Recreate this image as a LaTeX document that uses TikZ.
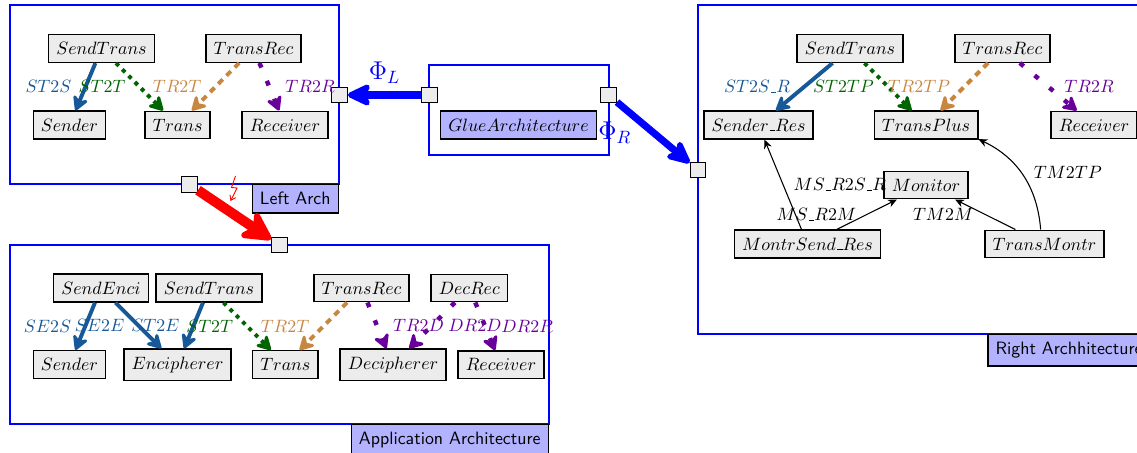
\documentclass[tikz,border=0pt]{standalone}
\usetikzlibrary{arrows.meta}
\definecolor{cblue}{RGB}{22,88,152}
\definecolor{cgreen}{RGB}{0,100,0}
\definecolor{ctan}{RGB}{200,135,65}
\definecolor{cpurple}{RGB}{105,0,155}
% short low rule used inside math identifiers
\newcommand{\mkusc}{\kern0.06em\vbox{\hrule width0.3em}}
\tikzset{
  boxnode/.style={draw=black, thick, fill=gray!15, inner sep=4.3pt},
  archtag/.style={draw=black, thick, fill=blue!30, inner sep=4.3pt, font=\sffamily},
  portsq/.style={draw=black, thick, fill=gray!15, minimum size=8.7pt, inner sep=0pt},
  archframe/.style={draw=blue, semithick},
  conn/.style={line width=2.2pt, -{Stealth[length=10pt,width=11pt,inset=3.5pt,round]}},
  sarr/.style={conn, color=cblue},
  garr/.style={conn, color=cgreen, dash pattern=on 2.2pt off 2.8pt},
  tarr/.style={conn, color=ctan, dash pattern=on 3.5pt off 3pt},
  parr/.style={conn, color=cpurple, line width=2.5pt, dash pattern=on 2.8pt off 8pt},
  marr/.style={semithick, -{Stealth[length=5pt,width=4.5pt]}},
  lft/.style={left=3.5pt},
  rgt/.style={right=4.5pt},
  phiarr/.style={color=blue, line width=4.5pt, -{Stealth[length=16pt,width=15pt,inset=4pt,round]}},
  redarr/.style={color=red, line width=5.6pt, -{Stealth[length=20pt,width=21pt,inset=6pt,round]}}
}
\begin{document}
\begin{tikzpicture}[x=0.56pt, y=-0.56pt]
\useasboundingbox (0,0) rectangle (1137,453);

% ---------------- Left architecture ----------------
\draw[archframe] (10,5) rectangle (339,184);
\node[archtag, anchor=north east] (leftlab) at (339,184) {Left Arch};
\node[boxnode] (lst)    at (101.5,48.5) {$SendTrans$};
\node[boxnode] (ltr)    at (253.5,48.5) {$TransRec$};
\node[boxnode] (lsnd)   at (69.5,125)   {$Sender$};
\node[boxnode] (ltrans) at (177.5,125)  {$Trans$};
\node[boxnode] (lrcv)   at (285,125)    {$Receiver$};
\node[portsq] (lpR) at (339.5,95) {};
\node[portsq] (lpB) at (189.5,184.5) {};

\draw[sarr] (lst) -- node[lft] {$ST2S$} (lsnd);
\draw[garr] (lst) -- node[lft] {$ST2T$} (ltrans);
\draw[tarr] (ltr) -- node[lft] {$TR2T$} (ltrans);
\draw[parr] (ltr) -- node[rgt] {$TR2R$} (lrcv);

% ---------------- Glue architecture ----------------
\draw[archframe] (429,65) rectangle (609,155);
\node[archtag, font=\normalfont] (gluelab) at (518.5,125) {$GlueArchitecture$};
\node[portsq] (gpL) at (429.5,95) {};
\node[portsq] (gpR) at (608.5,95) {};

% ---------------- Right architecture ----------------
\draw[archframe] (698,5) rectangle (1151,334);
\node[archtag, anchor=north east] (rightlab) at (1151,334) {Right Archhitecture};
\node[boxnode] (rst)  at (850,48.5)   {$SendTrans$};
\node[boxnode] (rtr)  at (1002.5,48.5) {$TransRec$};
\node[boxnode] (rsr)  at (758.5,125)  {$Sender\mkusc Res$};
\node[boxnode] (rtp)  at (926,125)    {$TransPlus$};
\node[boxnode] (rrc)  at (1094,125)   {$Receiver$};
\node[boxnode] (rmon) at (926,185)    {$Monitor$};
\node[boxnode] (rmsr) at (807.5,244)  {$MontrSend\mkusc Res$};
\node[boxnode] (rtm)  at (1044.5,244) {$TransMontr$};
\node[portsq] (rp) at (698,170) {};

\draw[sarr] (rst) -- node[lft] {$ST2S\mkusc R$} (rsr);
\draw[garr] (rst) -- node[lft] {$ST2TP$} (rtp);
\draw[tarr] (rtr) -- node[lft] {$TR2TP$} (rtp);
\draw[parr] (rtr) -- node[rgt] {$TR2R$} (rrc);
\draw[marr] (rmsr) -- node[right=2.3pt] {$MS\mkusc R2S\mkusc R$} (rsr);
\draw[marr] (rmsr) -- node[left=2.3pt] {$MS\mkusc R2M$} (rmon);
\draw[marr] (rtm) -- node[left=3pt] {$TM2M$} (rmon);
\draw[marr] (rtm) to[bend right=30]
  node[pos=0.5, anchor=west, xshift=2.5pt, yshift=1.5pt] {$TM2TP$} (rtp);

% ---------------- Application architecture ----------------
\draw[archframe] (10,245) rectangle (549,424);
\node[archtag, anchor=north east] (applab) at (549,424) {Application Architecture};
\node[boxnode] (ase)    at (101,288)     {$SendEnci$};
\node[boxnode] (ast)    at (209,288)     {$SendTrans$};
\node[boxnode] (atr)    at (361.5,288)   {$TransRec$};
\node[boxnode] (adr)    at (469.3,288)   {$DecRec$};
\node[boxnode] (asnd)   at (69.5,364.5)  {$Sender$};
\node[boxnode] (aenc)   at (177.5,364.7) {$Encipherer$};
\node[boxnode] (atrans) at (285.3,364.5) {$Trans$};
\node[boxnode] (adec)   at (393,364.7)   {$Decipherer$};
\node[boxnode] (arcv)   at (501,364.7)   {$Receiver$};
\node[portsq] (ap) at (279.5,245) {};

\draw[sarr] (ase) -- node[lft] {$SE2S$} (asnd);
\draw[sarr] (ase) -- node[lft] {$SE2E$} (aenc);
\draw[sarr] (ast) -- node[lft] {$ST2E$} (aenc);
\draw[garr] (ast) -- node[lft] {$ST2T$} (atrans);
\draw[tarr] (atr) -- node[lft] {$TR2T$} (atrans);
\draw[parr] (atr) -- node[rgt] {$TR2D$} (adec);
\draw[parr] (adr) -- node[rgt] {$DR2D$} (adec);
\draw[parr] (adr) -- node[rgt] {$DR2R$} (arcv);

% ---------------- Mappings between architectures ----------------
\draw[phiarr] (gpL) -- node[above=1pt, font=\Large] {$\Phi_L$} (lpR);
\draw[phiarr, line width=4pt] (gpR) -- node[left=7pt, font=\Large] {$\Phi_R$} (rp);
\draw[redarr] (lpB) -- (ap);
% lightning mark on the failing mapping
\draw[red, line width=0.5pt, -{Straight Barb[length=2.5pt,width=3.5pt]}]
  (235.5,176) -- (231.5,187.5) -- (237,188) -- (230.5,201);
\end{tikzpicture}
\end{document}
